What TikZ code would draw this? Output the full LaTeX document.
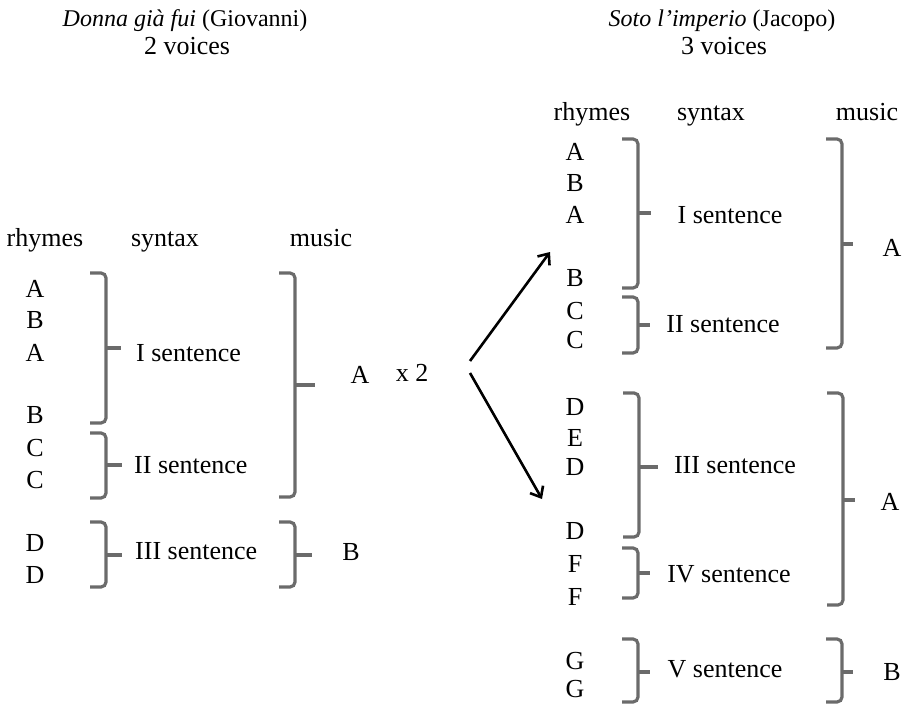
\documentclass[tikz,border=0pt]{standalone}
\usepackage{fontspec}
\setmainfont{Liberation Serif}
\usetikzlibrary{arrows,arrows.meta,positioning,calc}

% bracket: x, top, bottom, tip y, tip x
\newcommand{\bkt}[5]{%
  \draw[bkt] (#1-16,#2) -- (#1,#2) -- (#1,#3) -- (#1-16,#3);
  \draw[bkt] (#1,#4) -- (#5,#4);}

\begin{document}
\begin{tikzpicture}[x=1pt,y=-1pt]
    \tikzset{
      txt/.style={font=\fontsize{26}{30}\selectfont, inner sep=0pt,
        text height=17pt, text depth=0pt},
      ttl/.style={txt, font=\fontsize{24}{28}\selectfont},
      bkt/.style={draw=black!58, line width=3.2pt, rounded corners=5pt},
      fork/.style={-{Straight Barb[length=9pt,width=15pt]}, line width=2.6pt}
    }
    \useasboundingbox (0,0) rectangle (905,706);

    % left piece
    \node [ttl] (t1) at (185,18) {\textit{Donna già fui} (Giovanni)};
    \node [txt] (v1) at (187,46) {2 voices};
    \node [txt] (rh1) at (45,238) {rhymes};
    \node [txt] (sy1) at (165,238) {syntax};
    \node [txt] (mu1) at (321,238) {music};

    \node [txt] (la1) at (35,289) {A};
    \node [txt] (lb1) at (35,320) {B};
    \node [txt] (la2) at (35,353) {A};
    \node [txt] (lb2) at (35,415) {B};
    \node [txt] (lc1) at (35,448) {C};
    \node [txt] (lc2) at (35,480) {C};
    \node [txt] (ld1) at (35,543) {D};
    \node [txt] (ld2) at (35,575) {D};

    \bkt{106}{273}{423}{348}{121}
    \bkt{106}{433}{498}{465}{122}
    \bkt{106}{522}{587}{555}{122}
    \bkt{295}{273}{497}{385}{315}
    \bkt{295}{522}{587}{555}{312}

    \node [txt, anchor=west] (ls1) at (136,353) {I sentence};
    \node [txt, anchor=west] (ls2) at (134,465) {II sentence};
    \node [txt, anchor=west] (ls3) at (135,551) {III sentence};
    \node [txt] (lma) at (360,375) {A};
    \node [txt] (x2) at (412,373) {x 2};
    \node [txt] (lmb) at (351,552) {B};

    % arrows
    \coordinate (s1) at (470,361);
    \coordinate (s2) at (470,373);
    \coordinate (e1) at (550,252);
    \coordinate (e2) at (542,499);
    \draw [fork] (s1) -- (e1);
    \draw [fork] (s2) -- (e2);

    % right piece
    \node [ttl] (t2) at (722,18) {\textit{Soto l’imperio} (Jacopo)};
    \node [txt] (v2) at (724,46) {3 voices};
    \node [txt] (rh2) at (592,112) {rhymes};
    \node [txt] (sy2) at (711,112) {syntax};
    \node [txt] (mu2) at (867,112) {music};

    \node [txt] (ra1) at (575,152) {A};
    \node [txt] (rb1) at (575,183) {B};
    \node [txt] (ra2) at (575,215) {A};
    \node [txt] (rb2) at (575,278) {B};
    \node [txt] (rc1) at (575,311) {C};
    \node [txt] (rc2) at (575,340) {C};
    \node [txt] (rd1) at (575,407) {D};
    \node [txt] (re1) at (575,438) {E};
    \node [txt] (rd2) at (575,467) {D};
    \node [txt] (rd3) at (575,531) {D};
    \node [txt] (rf1) at (575,564) {F};
    \node [txt] (rf2) at (575,597) {F};
    \node [txt] (rg1) at (575,661) {G};
    \node [txt] (rg2) at (575,689) {G};

    \bkt{638}{139}{288}{213}{651}
    \bkt{638}{297}{353}{325}{650}
    \bkt{639}{393}{537}{467}{658}
    \bkt{638}{548}{598}{573}{650}
    \bkt{638}{639}{702}{672}{650}
    \bkt{842}{139}{348}{244}{853}
    \bkt{843}{393}{605}{500}{855}
    \bkt{842}{639}{702}{672}{853}

    \node [txt] (rs1) at (730,215) {I sentence};
    \node [txt] (rs2) at (723,324) {II sentence};
    \node [txt] (rs3) at (735,465) {III sentence};
    \node [txt] (rs4) at (729,574) {IV sentence};
    \node [txt] (rs5) at (725,669) {V sentence};
    \node [txt] (rma1) at (892,248) {A};
    \node [txt] (rma2) at (890,502) {A};
    \node [txt] (rmb) at (892,672) {B};

  \end{tikzpicture}
\end{document}
